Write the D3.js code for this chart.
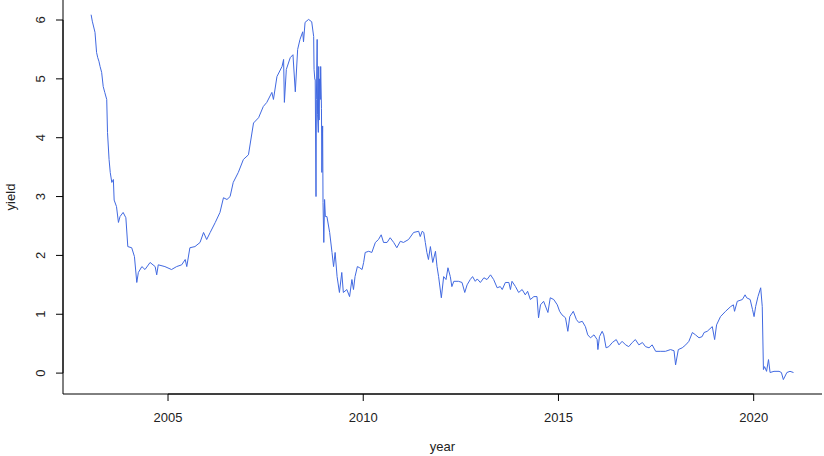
<!DOCTYPE html>
<html><head><meta charset="utf-8">
<script src="https://cdn.jsdelivr.net/npm/d3@7"></script>
<style>body{margin:0;background:#fff}svg{display:block}</style>
</head><body><svg id="c" width="824" height="456"></svg>
<script>
const years = [
2003.03,2003.06,2003.13,2003.17,2003.20,2003.23,2003.26,2003.30,2003.34,2003.38,
2003.43,2003.45,2003.49,2003.52,2003.56,2003.60,2003.62,2003.68,2003.73,2003.77,
2003.85,2003.92,2003.97,2004.07,2004.14,2004.20,2004.24,2004.33,2004.41,2004.54,
2004.67,2004.71,2004.75,2004.92,2005.09,2005.22,2005.35,2005.44,2005.48,2005.56,
2005.69,2005.82,2005.91,2005.99,2006.08,2006.21,2006.33,2006.42,2006.51,2006.59,
2006.67,2006.80,2006.93,2007.06,2007.19,2007.32,2007.44,2007.53,2007.66,2007.70,
2007.79,2007.92,2007.96,2007.98,2008.03,2008.13,2008.20,2008.26,2008.32,2008.38,
2008.45,2008.47,2008.51,2008.60,2008.68,2008.73,2008.74,2008.76,2008.77,2008.79,
2008.80,2008.82,2008.83,2008.85,2008.86,2008.87,2008.88,2008.90,2008.91,2008.93,
2008.94,2008.96,2008.97,2008.99,2009.01,2009.03,2009.07,2009.14,2009.20,2009.24,
2009.28,2009.33,2009.39,2009.45,2009.49,2009.58,2009.65,2009.71,2009.75,2009.79,
2009.85,2009.91,2009.97,2010.01,2010.05,2010.14,2010.22,2010.31,2010.39,2010.46,
2010.52,2010.61,2010.69,2010.78,2010.86,2010.95,2011.03,2011.16,2011.29,2011.42,
2011.46,2011.51,2011.55,2011.59,2011.63,2011.67,2011.72,2011.78,2011.85,2011.89,
2011.93,2012.00,2012.06,2012.12,2012.17,2012.23,2012.27,2012.32,2012.44,2012.53,
2012.60,2012.66,2012.74,2012.80,2012.87,2012.92,2013.00,2013.09,2013.17,2013.26,
2013.34,2013.43,2013.51,2013.56,2013.64,2013.73,2013.77,2013.81,2013.90,2013.98,
2014.07,2014.15,2014.21,2014.28,2014.37,2014.45,2014.49,2014.54,2014.62,2014.73,
2014.79,2014.88,2014.97,2015.03,2015.09,2015.18,2015.24,2015.29,2015.38,2015.46,
2015.52,2015.61,2015.69,2015.75,2015.82,2015.91,2015.99,2016.01,2016.05,2016.12,
2016.16,2016.22,2016.29,2016.38,2016.48,2016.55,2016.63,2016.72,2016.80,2016.89,
2016.97,2017.06,2017.15,2017.23,2017.32,2017.40,2017.49,2017.62,2017.74,2017.87,
2017.96,2018.00,2018.07,2018.17,2018.26,2018.34,2018.43,2018.51,2018.60,2018.68,
2018.73,2018.81,2018.94,2019.00,2019.05,2019.15,2019.28,2019.41,2019.48,2019.51,
2019.58,2019.71,2019.78,2019.82,2019.91,2019.97,2020.01,2020.05,2020.11,2020.18,
2020.22,2020.25,2020.28,2020.33,2020.38,2020.42,2020.52,2020.65,2020.71,2020.76,
2020.85,2020.93,2021.02
];
const yields = [
6.09,5.98,5.79,5.45,5.36,5.30,5.21,5.11,4.87,4.77,
4.65,4.09,3.63,3.41,3.24,3.29,2.94,2.83,2.56,2.66,
2.73,2.64,2.15,2.13,1.98,1.54,1.71,1.81,1.76,1.88,
1.81,1.67,1.84,1.81,1.76,1.81,1.84,1.93,1.81,2.13,
2.15,2.22,2.39,2.27,2.39,2.56,2.73,2.98,2.95,3.00,
3.24,3.41,3.63,3.71,4.25,4.34,4.53,4.60,4.77,4.65,
5.04,5.21,5.33,4.60,5.16,5.36,5.41,4.78,5.50,5.67,
5.80,5.63,5.96,6.01,5.97,5.72,5.16,4.99,4.99,3.00,
4.65,5.67,4.40,4.09,5.21,4.30,5.00,4.65,5.21,4.50,
3.41,4.20,2.90,2.22,2.95,2.66,2.66,2.39,2.05,1.81,
2.05,1.64,1.37,1.71,1.37,1.42,1.30,1.59,1.42,1.64,
1.81,1.79,1.76,1.88,2.05,2.07,2.05,2.22,2.27,2.35,
2.22,2.22,2.30,2.22,2.13,2.24,2.22,2.27,2.39,2.41,
2.32,2.41,2.39,2.22,2.05,1.93,2.15,1.88,2.07,1.81,
1.64,1.28,1.64,1.59,1.79,1.64,1.47,1.56,1.56,1.54,
1.37,1.50,1.59,1.64,1.56,1.60,1.54,1.62,1.59,1.67,
1.59,1.45,1.47,1.42,1.54,1.54,1.42,1.56,1.47,1.37,
1.42,1.33,1.39,1.25,1.30,1.30,0.94,1.16,1.22,1.03,
1.28,1.25,1.16,1.05,0.99,0.94,0.71,0.96,1.05,0.91,
0.86,0.88,0.79,0.65,0.60,0.65,0.57,0.40,0.62,0.71,
0.65,0.43,0.45,0.52,0.57,0.48,0.54,0.48,0.45,0.52,
0.57,0.48,0.52,0.45,0.43,0.48,0.37,0.37,0.37,0.40,
0.38,0.14,0.40,0.43,0.48,0.54,0.69,0.65,0.60,0.62,
0.69,0.71,0.79,0.57,0.82,0.96,1.05,1.13,1.16,1.05,
1.22,1.25,1.33,1.28,1.25,1.08,0.96,1.13,1.30,1.45,
1.13,0.06,0.11,0.03,0.23,0.01,0.03,0.03,0.01,-0.11,
0.01,0.03,0.01
];
const xTicks = [2005, 2010, 2015, 2020];
const yTicks = [0, 1, 2, 3, 4, 5, 6];
const xTitle = "year", yTitle = "yield";

const L = 63, R = 822, T = 0, B = 394;
const svg = d3.select("#c");
const font = "'Liberation Sans', Arial, sans-serif";
const x = d3.scaleLinear().domain([2002.31, 2021.75]).range([L, R]);
const y = d3.scaleLinear().domain([-0.355, 6.34]).range([B, T]);

const data = years.map((d, i) => [d, yields[i]]);

// box (bty = "l")
svg.append("line").attr("x1", L).attr("x2", L).attr("y1", T).attr("y2", B).attr("stroke", "#000").attr("stroke-width", 1);
svg.append("line").attr("x1", L).attr("x2", R).attr("y1", B).attr("y2", B).attr("stroke", "#000").attr("stroke-width", 1);

// y axis
const gy = svg.append("g").attr("transform", `translate(${L},0)`)
  .call(d3.axisLeft(y).tickValues(yTicks).tickSize(7).offset(0).tickFormat(d3.format("d")));
gy.select(".domain").remove();
gy.selectAll(".tick line").attr("stroke", "#000");
gy.selectAll(".tick text")
  .attr("x", 0).attr("dy", 0).attr("text-anchor", "middle")
  .attr("transform", "translate(-18,0) rotate(-90)")
  .attr("font-family", font).attr("font-size", 13).attr("fill", "#222");
svg.append("line").attr("x1", L).attr("x2", L).attr("y1", y(yTicks[0])).attr("y2", y(yTicks[yTicks.length-1])).attr("stroke", "#000");

// x axis
const gx = svg.append("g").attr("transform", `translate(0,${B})`)
  .call(d3.axisBottom(x).tickValues(xTicks).tickSize(7).offset(0).tickFormat(d3.format("d")));
gx.select(".domain").remove();
gx.selectAll(".tick line").attr("stroke", "#000");
gx.selectAll(".tick text").attr("y", 27.5).attr("dy", 0)
  .attr("font-family", font).attr("font-size", 13).attr("fill", "#222");
svg.append("line").attr("y1", B).attr("y2", B).attr("x1", x(xTicks[0])).attr("x2", x(xTicks[xTicks.length-1])).attr("stroke", "#000");

// titles
svg.append("text").attr("x", (L + R) / 2).attr("y", 451).attr("text-anchor", "middle")
  .attr("font-family", font).attr("font-size", 13).attr("fill", "#222").text(xTitle);
svg.append("text").attr("transform", `translate(15,${(T + B) / 2}) rotate(-90)`).attr("text-anchor", "middle")
  .attr("font-family", font).attr("font-size", 13).attr("fill", "#222").text(yTitle);

// series
svg.append("path").datum(data)
  .attr("fill", "none").attr("stroke", "#4169E1").attr("stroke-width", 1)
  .attr("stroke-linejoin", "round")
  .attr("d", d3.line().x(d => x(d[0])).y(d => y(d[1])));
</script>
</body></html>
